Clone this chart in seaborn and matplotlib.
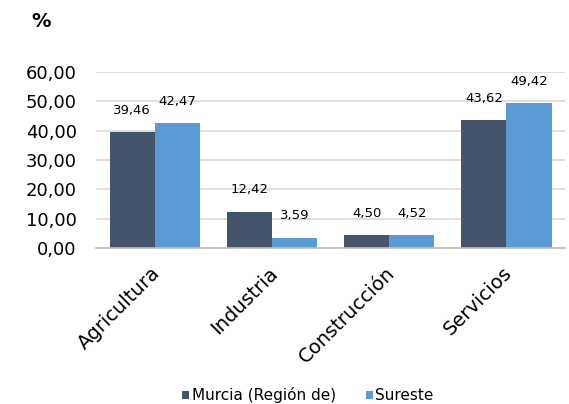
import pandas as pd
import seaborn as sns
import matplotlib.pyplot as plt
import matplotlib.transforms as mtransforms
from matplotlib.ticker import FuncFormatter

# Data
sectores = ["Agricultura", "Industria", "Construcción", "Servicios"]
murcia = [39.46, 12.42, 4.50, 43.62]
sureste = [42.47, 3.59, 4.52, 49.42]
series = ["Murcia (Región de)", "Sureste"]
colores = ["#44546A", "#5B9BD5"]

df = pd.DataFrame({
    "sector": sectores * 2,
    "valor": murcia + sureste,
    "serie": [series[0]] * 4 + [series[1]] * 4,
})

sns.set_style("white")
plt.rcParams['font.family'] = ['DejaVu Sans']
plt.rcParams['text.color'] = 'black'
plt.rcParams['xtick.color'] = 'black'
plt.rcParams['ytick.color'] = 'black'

fig = plt.figure(figsize=(5.69, 4.04), dpi=100)
ax = fig.add_axes([0.169, 0.386, 0.824, 0.436])

sns.barplot(data=df, x="sector", y="valor", hue="serie", palette=colores,
            width=0.77, ax=ax, saturation=1, linewidth=0)

ax.set_ylim(0, 60)
ax.set_yticks(range(0, 61, 10))
ax.yaxis.set_major_formatter(FuncFormatter(lambda v, p: f"{v:.2f}".replace(".", ",")))
ax.yaxis.grid(True, color="#D9D9D9", linewidth=1.2)
ax.set_axisbelow(True)
for s in ["left", "right", "top"]:
    ax.spines[s].set_visible(False)
ax.spines["bottom"].set_color("#BFBFBF")
ax.spines["bottom"].set_linewidth(1.2)
ax.set_xlim(-0.5, 3.5)
ax.set_xlabel("")
ax.set_ylabel("")
ax.tick_params(axis="y", labelsize=13, length=0, pad=14)
ax.tick_params(axis="x", labelsize=14, length=0, pad=11)
shift = mtransforms.ScaledTranslation(-4 / 100, 0, fig.dpi_scale_trans)
for lbl in ax.get_xticklabels():
    lbl.set_rotation(45)
    lbl.set_ha("right")
    lbl.set_rotation_mode("anchor")
    lbl.set_transform(lbl.get_transform() + shift)

for cont in ax.containers:
    ax.bar_label(cont, labels=[f"{v:.2f}".replace(".", ",") for v in cont.datavalues],
                 fontsize=9.5, padding=11)

fig.text(0.072, 0.948, "%", fontsize=14, fontweight="bold", ha="center", va="center")

sns.move_legend(ax, "center", bbox_to_anchor=(0.452, -0.835), ncol=2, frameon=False,
                fontsize=11, handlelength=0.45, handleheight=0.45, handletextpad=0.15,
                columnspacing=2.0, title=None)

fig.savefig("out.png", dpi=100)
